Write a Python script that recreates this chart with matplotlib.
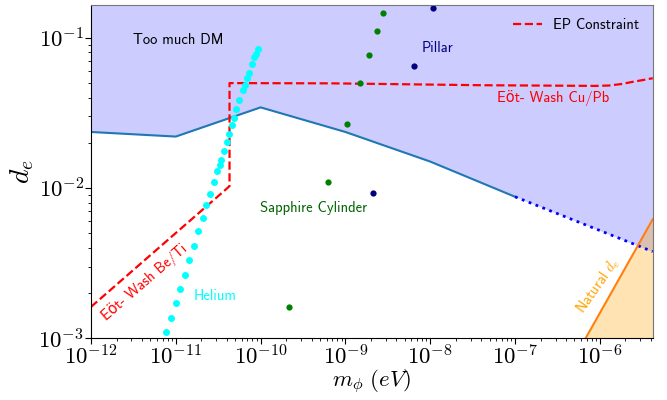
import numpy as np
import matplotlib
matplotlib.use('Agg')
import matplotlib.pyplot as plt
from matplotlib import ticker

plt.rcParams['mathtext.fontset'] = 'cm'
SANS = ['cmss10', 'DejaVu Sans']

# ---------------- data ----------------
# DM bound (solid) and extrapolation (dotted)
dm_m = [1e-12, 1e-11, 1e-10, 1e-9, 1e-8, 1e-7]
dm_d = [0.0236, 0.0220, 0.0344, 0.0236, 0.0150, 0.00875]
dm_ext_m = [1e-7, 4.2e-6]
dm_ext_d = [0.00875, 0.00378]

# EP constraint (Eot-Wash)
ep_m = [1e-12, 3.82e-11, 4.3e-11, 4.3e-11, 7e-10, 4e-8, 9e-7, 1.3e-6, 1.8e-6,
        2.5e-6, 3.3e-6, 4.2e-6]
ep_d = [1.62e-3, 9.7e-3, 1.03e-2, 0.0499, 0.0497, 0.0483, 0.0478, 0.0481, 0.0492,
        0.0510, 0.0524, 0.0538]

# Natural d_e
nat_m = [6.78e-7, 4.2e-6]
nat_d = [1e-3, 6.2e-3]

# Helium
helium_m = [7.75e-12, 8.8e-12, 1.0e-11, 1.12e-11, 1.30e-11, 1.45e-11, 1.63e-11,
            1.85e-11, 2.08e-11, 2.30e-11, 2.56e-11, 2.83e-11, 3.10e-11, 3.33e-11,
            3.42e-11, 3.66e-11, 4.06e-11, 4.29e-11, 4.58e-11, 4.81e-11, 5.15e-11,
            5.62e-11, 6.28e-11, 6.58e-11, 7.0e-11, 7.33e-11, 7.88e-11, 8.4e-11,
            8.87e-11, 9.2e-11]
helium_d = [1.11e-3, 1.37e-3, 1.71e-3, 2.13e-3, 2.64e-3, 3.33e-3, 4.12e-3,
            5.2e-3, 6.35e-3, 7.7e-3, 9.1e-3, 1.10e-2, 1.30e-2, 1.42e-2,
            1.53e-2, 1.77e-2, 2.03e-2, 2.28e-2, 2.63e-2, 2.92e-2, 3.33e-2,
            3.85e-2, 4.48e-2, 4.83e-2, 5.36e-2, 5.78e-2, 6.67e-2, 7.4e-2,
            7.85e-2, 8.36e-2]

# Sapphire cylinder
sapphire_m = [2.17e-10, 6.27e-10, 1.05e-9, 1.47e-9, 1.91e-9, 2.33e-9, 2.77e-9]
sapphire_d = [1.62e-3, 0.01096, 0.0265, 0.0497, 0.0773, 0.110, 0.145]

# Pillar
pillar_m = [2.13e-9, 6.5e-9, 1.08e-8]
pillar_d = [9.3e-3, 0.0653, 0.157]

xlim = (1e-12, 4.2e-6)
ylim = (1e-3, 0.165)

# ---------------- plot ----------------
fig = plt.figure(figsize=(6.67, 4.0), dpi=100)
ax = fig.add_axes([0.1364, 0.154, 0.9786 - 0.1364, 0.9875 - 0.154])
ax.set_xscale('log')
ax.set_yscale('log')

# blue excluded region
all_m = dm_m + dm_ext_m[1:]
all_d = dm_d + dm_ext_d[1:]
ax.fill_between(all_m, all_d, ylim[1], color='b', alpha=0.2, lw=0)
ax.plot(dm_m, dm_d, color='#1f77b4', lw=1.5)
ax.plot(dm_ext_m, dm_ext_d, color='b', ls=':', lw=2)

# natural
ax.fill_between(nat_m, nat_d, ylim[0], color='orange', alpha=0.3, lw=0)
ax.plot(nat_m, nat_d, color='#ff7f0e', lw=1.5)

# EP
ax.plot(ep_m, ep_d, color='red', ls='--', lw=1.6, label='EP Constraint')

# points
ax.plot(helium_m, helium_d, 'o', color='cyan', ms=5, mew=0)
ax.plot(sapphire_m, sapphire_d, 'o', color='green', ms=4.5, mew=0)
ax.plot(pillar_m, pillar_d, 'o', color='navy', ms=4.5, mew=0)

ax.set_xlim(*xlim)
ax.set_ylim(*ylim)

# texts
fs = 10.5
ax.text(3.1e-12, 0.096, 'Too much DM', fontsize=fs, family=SANS, va='center', color='black')
ax.text(8.0e-9, 0.085, 'Pillar', fontsize=fs, family=SANS, va='center', color='navy')
ax.text(9.9e-11, 7.36e-3, 'Sapphire Cylinder', fontsize=fs, family=SANS, va='center', color='darkgreen')
ax.text(1.64e-11, 1.9e-3, 'Helium', fontsize=fs, family=SANS, va='center', color='cyan')
ax.text(6.2e-8, 0.0395, 'Eöt- Wash Cu/Pb', fontsize=fs, family=SANS, va='center', ha='left', color='red')
ax.text(4.3e-12, 2.34e-3, 'Eöt- Wash Be/Ti', fontsize=fs, family=SANS, va='center', ha='center',
        rotation=41, color='red', rotation_mode='anchor')
ax.text(9.7e-7, 2.26e-3, r'Natural $d_e$', fontsize=fs, family=SANS, va='center', ha='center',
        rotation=55, color='orange', rotation_mode='anchor')

leg = ax.legend(loc='upper right', frameon=False, prop={'family': SANS, 'size': fs},
                handlelength=2.0)

# ticks
fmt = ticker.FuncFormatter(lambda v, p: r'$10^{%d}$' % int(round(np.log10(v))))
ax.xaxis.set_major_locator(ticker.LogLocator(base=10, numticks=20))
ax.yaxis.set_major_locator(ticker.LogLocator(base=10, numticks=20))
ax.xaxis.set_major_formatter(fmt)
ax.yaxis.set_major_formatter(fmt)
ax.xaxis.set_minor_locator(ticker.LogLocator(base=10, subs=np.arange(2, 10), numticks=50))
ax.yaxis.set_minor_locator(ticker.LogLocator(base=10, subs=np.arange(2, 10), numticks=50))
ax.xaxis.set_minor_formatter(ticker.NullFormatter())
ax.yaxis.set_minor_formatter(ticker.NullFormatter())
ax.tick_params(which='major', labelsize=16.5, length=4, pad=1)
ax.tick_params(which='minor', length=2)

ax.set_xlabel(r'$m_\phi\ (eV)$', fontsize=16.5, labelpad=-1)
ax.set_ylabel(r'$d_e$', fontsize=20, labelpad=2)

for s in ['top', 'right']:
    ax.spines[s].set_color('#777777')

fig.savefig('out.png', dpi=100)
